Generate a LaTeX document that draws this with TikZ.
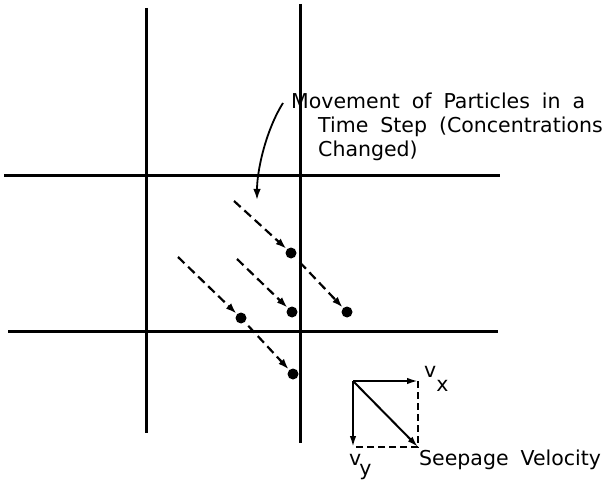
\documentclass[tikz,border=0pt]{standalone}
\usepackage{fontspec}
\setmainfont{DejaVu Sans}
\usetikzlibrary{arrows.meta}

\begin{document}
\begin{tikzpicture}[x=1pt, y=-1pt,
gridline/.style={line width=3pt},
particle/.style={circle, fill=black, inner sep=0pt, minimum size=11pt},
track/.style={line width=2.2pt, dash pattern=on 9pt off 5pt,
-{Latex[length=11pt,width=7.5pt]}, shorten >=0.5pt},
pointer/.style={line width=1.8pt, -{Latex[length=11pt,width=7.5pt]}},
label/.style={font={\fontsize{20.5}{24}\selectfont\spaceskip=12pt\relax},
inner sep=0pt, anchor=base west},
comp/.style={line width=2pt, -{Latex[length=11pt,width=6.5pt]}},
proj/.style={line width=1.6pt, dash pattern=on 7pt off 4pt}
]
\useasboundingbox (0,0) rectangle (605,481);

% grid of cells
\draw[gridline] (146,8) -- (146,433);
\draw[gridline] (300,4) -- (300,443);
\draw[gridline] (4,176) -- (500,176);
\draw[gridline] (8,331) -- (498,331);

% particles after the step
\node[particle] (pA) at (291,253) {};
\node[particle] (pB) at (292,312) {};
\node[particle] (pC) at (241,318) {};
\node[particle] (pD) at (347,312) {};
\node[particle] (pE) at (293,374) {};

\coordinate (sA) at (234,201);
\coordinate (sB) at (237,259);
\coordinate (sC) at (178,257);

\draw[track] (sA) -- (pA);
\draw[track] (sB) -- (pB);
\draw[track] (sC) -- (pC);
\draw[track, shorten <=7pt] (pA) -- (pD);
\draw[track, shorten <=5pt] (pC) -- (pE);

% caption with pointer
\node[label] (mvA) at (291,109) {Movement of Particles in a};
\node[label, align=left] (mvB) at (318,157) {Time Step (Concentrations\\Changed)};

\coordinate (cv) at (257,200);
\draw[pointer] ([shift={(-8,-6)}]mvA.base west) .. controls (266,130) and (257,170) .. (cv);

% velocity components
\coordinate (vO) at (353,381);
\coordinate (vX) at (418,381);
\coordinate (vY) at (353,447);
\coordinate (vS) at (418,447);

\draw[comp] (vO) -- (vX);
\draw[comp] (vO) -- (vY);
\draw[comp] (vO) -- (vS);
\draw[proj] (vX) -- (vS) -- (vY);

\node[label] (lvx) at (424,377) {v\raisebox{-14pt}{x}};
\node[label] (lvy) at (349,465) {v\kern-2pt\raisebox{-10pt}{y}};
\node[label] (seep) at (419,465) {Seepage Velocity};

\end{tikzpicture}
\end{document}
